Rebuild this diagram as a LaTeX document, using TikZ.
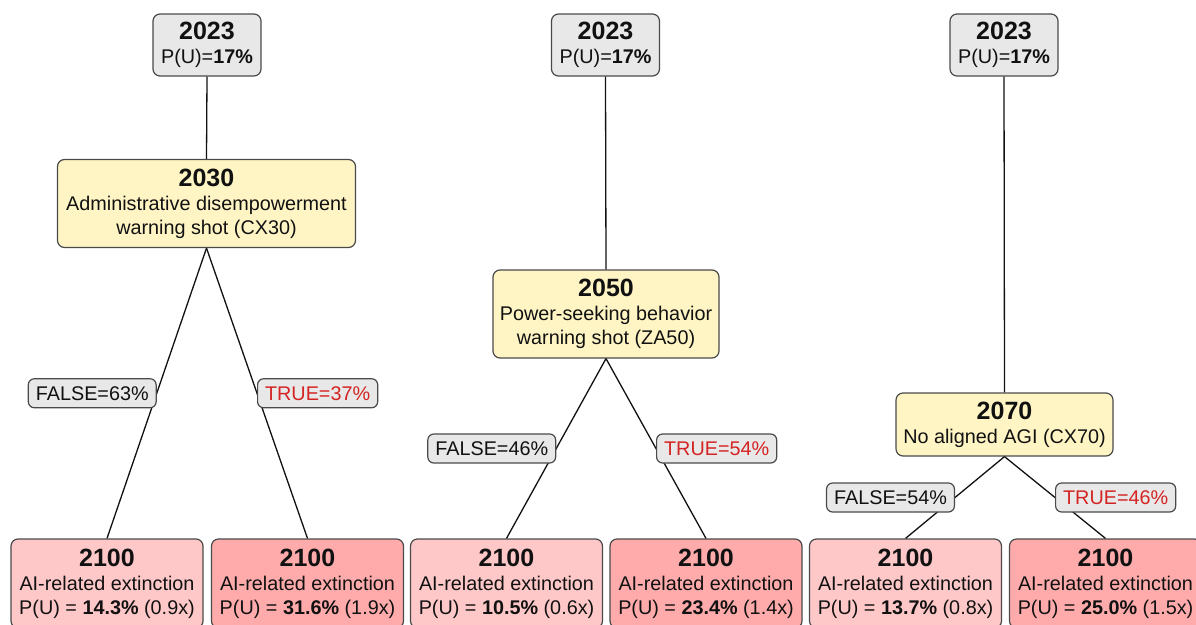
\documentclass[tikz,border=0pt]{standalone}
\usepackage{fontspec}
\setmainfont{Liberation Sans}
\definecolor{bordergray}{HTML}{4A4A4A}
\definecolor{topgray}{HTML}{E8E8E8}
\definecolor{midyellow}{HTML}{FFF5C4}
\definecolor{falsepink}{HTML}{FFC8C8}
\definecolor{truepink}{HTML}{FFABAB}
\definecolor{truered}{HTML}{D42424}
\definecolor{txt}{HTML}{111111}
\newcommand{\hdr}[1]{{\fontsize{25}{24}\selectfont\bfseries #1}}
\begin{document}
\begin{tikzpicture}[x=1pt,y=-1pt,
  box/.style={draw=bordergray, line width=1.2pt, rounded corners=7pt, inner sep=0pt,
    align=center, text=txt, font=\fontsize{19.8}{24}\selectfont},
  yearbox/.style={box, fill=topgray, minimum width=108pt, minimum height=62pt},
  eventbox/.style={box, fill=midyellow, minimum height=#1},
  eventbox/.default=88pt,
  fbox/.style={box, fill=falsepink, minimum width=192pt, minimum height=89pt},
  tbox/.style={box, fill=truepink, minimum width=192pt, minimum height=89pt},
  lbl/.style={draw=bordergray, line width=1.2pt, rounded corners=6pt, fill=topgray,
    inner xsep=7.5pt, inner ysep=0pt, minimum height=29pt, text=txt,
    font=\fontsize{19.8}{24}\selectfont},
  tlbl/.style={lbl, text=truered},
  edge/.style={draw=txt, line width=1.3pt}
]
\useasboundingbox (0,0) rectangle (1196,624);

% column 1
\node[yearbox] (t1) at (207,45) {\hdr{2023}\\P(U)=\textbf{17\%}};
\node[eventbox, minimum width=298pt] (m1) at (206.5,203.5) {\hdr{2030}\\Administrative disempowerment\\warning shot (CX30)};
\node[fbox] (f1) at (107,583.5) {\hdr{2100}\\AI-related extinction\\P(U) = \textbf{14.3\%} (0.9x)};
\node[tbox] (r1) at (307.5,583.5) {\hdr{2100}\\AI-related extinction\\P(U) = \textbf{31.6\%} (1.9x)};

% column 2
\node[yearbox] (t2) at (605.5,45) {\hdr{2023}\\P(U)=\textbf{17\%}};
\node[eventbox, minimum width=226pt] (m2) at (606,314) {\hdr{2050}\\Power-seeking behavior\\warning shot (ZA50)};
\node[fbox] (f2) at (506.5,583.5) {\hdr{2100}\\AI-related extinction\\P(U) = \textbf{10.5\%} (0.6x)};
\node[tbox] (r2) at (706,583.5) {\hdr{2100}\\AI-related extinction\\P(U) = \textbf{23.4\%} (1.4x)};

% column 3
\node[yearbox] (t3) at (1004,45) {\hdr{2023}\\P(U)=\textbf{17\%}};
\node[eventbox=63pt, minimum width=217pt] (m3) at (1004.5,424.5) {\hdr{2070}\\No aligned AGI (CX70)};
\node[fbox] (f3) at (905.5,583.5) {\hdr{2100}\\AI-related extinction\\P(U) = \textbf{13.7\%} (0.8x)};
\node[tbox] (r3) at (1105.5,583.5) {\hdr{2100}\\AI-related extinction\\P(U) = \textbf{25.0\%} (1.5x)};

% edges
\foreach \i in {1,2,3}{
  \draw[edge] (t\i.south) -- (m\i.north);
}
\draw[edge] (m1.south) -- (f1.north) node[pos=.5, anchor=east, lbl] (l1f) {FALSE=63\%};
\draw[edge] (m1.south) -- (r1.north) node[pos=.5, anchor=west, tlbl] (l1t) {TRUE=37\%};
\draw[edge] (m2.south) -- (f2.north) node[pos=.5, anchor=east, lbl] (l2f) {FALSE=46\%};
\draw[edge] (m2.south) -- (r2.north) node[pos=.5, anchor=west, tlbl] (l2t) {TRUE=54\%};
\draw[edge] (m3.south) -- (f3.north) node[pos=.5, anchor=east, lbl] (l3f) {FALSE=54\%};
\draw[edge] (m3.south) -- (r3.north) node[pos=.5, anchor=west, tlbl] (l3t) {TRUE=46\%};
\end{tikzpicture}
\end{document}
